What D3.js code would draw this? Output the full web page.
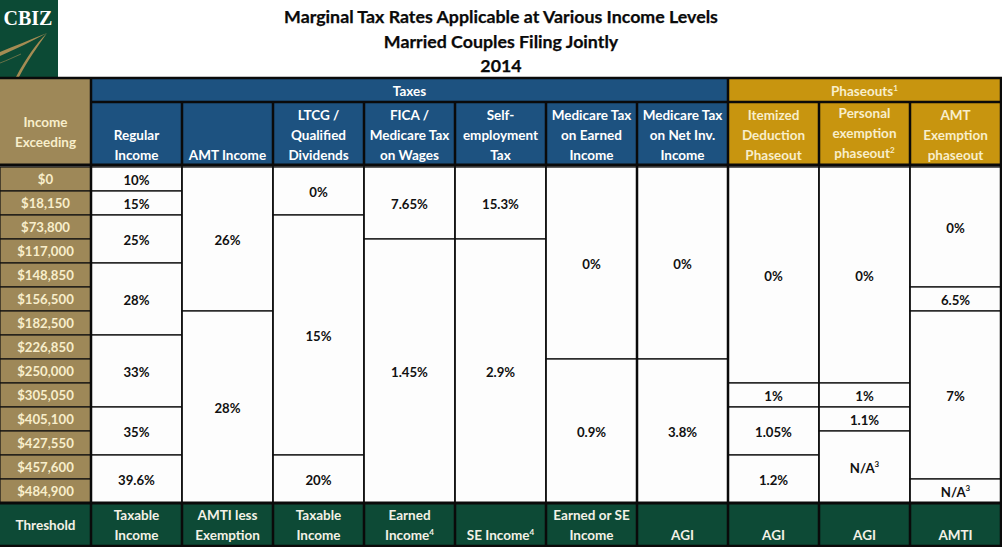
<!DOCTYPE html>
<html>
<head>
<meta charset="utf-8">
<script src="https://cdn.jsdelivr.net/npm/d3@7"></script>
<style>
  html, body { margin: 0; padding: 0; background: #ffffff; }
  svg { display: block; }
  text { font-family: Lato, "Open Sans", sans-serif; font-weight: bold; }
</style>
</head>
<body>
<svg id="chart" width="1002" height="547"></svg>
<script>
// ---------------- DATA ----------------
const titleLines = ["Marginal Tax Rates Applicable at Various Income Levels", "Married Couples Filing Jointly", "2014"];

const incomeLevels = ["$0", "$18,150", "$73,800", "$117,000", "$148,850", "$156,500", "$182,500",
  "$226,850", "$250,000", "$305,050", "$405,100", "$427,550", "$457,600", "$484,900"];

const columnKeys = ["label", "regular", "amt", "ltcg", "fica", "se", "medEarned", "medNII", "itemized", "personal", "amtEx"];

const groupNames = ["Taxes", "Phaseouts"];
const groupSup = ["", "1"];
const groupColumns = [["regular", "amt", "ltcg", "fica", "se", "medEarned", "medNII"], ["itemized", "personal", "amtEx"]];

// header lines per column (bottom aligned, 3 line slots); superscript after "^"
const headerLines = [
  ["Income", "Exceeding"],
  ["Regular", "Income"],
  ["AMT Income"],
  ["LTCG /", "Qualified", "Dividends"],
  ["FICA /", "Medicare Tax", "on Wages"],
  ["Self-", "employment", "Tax"],
  ["Medicare Tax", "on Earned", "Income"],
  ["Medicare Tax", "on Net Inv.", "Income"],
  ["Itemized", "Deduction", "Phaseout"],
  ["Personal", "exemption", "phaseout^2"],
  ["AMT", "Exemption", "phaseout"]
];

const thresholdLines = [
  ["Threshold"],
  ["Taxable", "Income"],
  ["AMTI less", "Exemption"],
  ["Taxable", "Income"],
  ["Earned", "Income^4"],
  ["SE Income^4"],
  ["Earned or SE", "Income"],
  ["AGI"],
  ["AGI"],
  ["AGI"],
  ["AMTI"]
];

// rates per column and the income row index at which each rate band begins (last value = end)
const regularRates = ["10%", "15%", "25%", "28%", "33%", "35%", "39.6%"];
const regularBreaks = [0, 1, 2, 4, 7, 10, 12, 14];
const amtRates = ["26%", "28%"];
const amtBreaks = [0, 6, 14];
const ltcgRates = ["0%", "15%", "20%"];
const ltcgBreaks = [0, 2, 12, 14];
const ficaRates = ["7.65%", "1.45%"];
const ficaBreaks = [0, 3, 14];
const seRates = ["15.3%", "2.9%"];
const seBreaks = [0, 3, 14];
const medEarnedRates = ["0%", "0.9%"];
const medEarnedBreaks = [0, 8, 14];
const medNIIRates = ["0%", "3.8%"];
const medNIIBreaks = [0, 8, 14];
const itemizedRates = ["0%", "1%", "1.05%", "1.2%"];
const itemizedBreaks = [0, 9, 10, 12, 14];
const personalRates = ["0%", "1%", "1.1%", "N/A^3"];
const personalBreaks = [0, 9, 10, 11, 14];
const amtExRates = ["0%", "6.5%", "7%", "N/A^3"];
const amtExBreaks = [0, 5, 6, 13, 14];

// ---------------- LAYOUT ----------------
const svg = d3.select("#chart");
const W = 1002, H = 547;
const colors = {
  tan: "#9e8858", blue: "#1d5280", gold: "#c8950f", green: "#0d4a36",
  cream: "#f8eecb", white: "#ffffff", cell: "#fdfdfd", logo: "#0c4a35", swoosh: "#a58c53"
};
const Y = { headTop: 78, bandBottom: 102, headBottom: 165, dataTop: 167, dataBottom: 503, footBottom: 546 };
const FS = 13.5, NFS = 13.2;

const x = d3.scaleBand().domain(columnKeys).range([0, 1001]).padding(0);
const y = d3.scaleLinear().domain([0, incomeLevels.length]).range([Y.dataTop, Y.dataBottom]);

const colData = {
  regular: [regularRates, regularBreaks], amt: [amtRates, amtBreaks], ltcg: [ltcgRates, ltcgBreaks],
  fica: [ficaRates, ficaBreaks], se: [seRates, seBreaks], medEarned: [medEarnedRates, medEarnedBreaks],
  medNII: [medNIIRates, medNIIBreaks], itemized: [itemizedRates, itemizedBreaks],
  personal: [personalRates, personalBreaks], amtEx: [amtExRates, amtExBreaks]
};

// helper to write text with "^" superscript
function writeText(sel, str, fs) {
  const parts = str.split("^");
  sel.append("tspan").text(parts[0]);
  if (parts.length > 1) {
    sel.append("tspan").attr("font-size", fs * 0.6).attr("dy", -fs * 0.4).text(parts[1]);
  }
}

// ---------------- LOGO ----------------
svg.append("rect").attr("x", 0).attr("y", 0).attr("width", 58).attr("height", 77).attr("fill", colors.logo);
svg.append("text").attr("x", 28).attr("y", 25).attr("text-anchor", "middle")
  .style("font-family", "'Liberation Serif', 'DejaVu Serif', serif").style("font-weight", "bold")
  .attr("font-size", 20).attr("fill", "#ffffff").text("CBIZ");
svg.append("path").attr("fill", colors.swoosh)
  .attr("d", "M0,52 C14,46 30,40 47,33 C32,41 16,49 0,56 Z");
svg.append("path").attr("fill", colors.swoosh)
  .attr("d", "M47,33 C36,44 26,58 16,77 L19,77 C28,60 38,46 47,33 Z");
svg.append("path").attr("fill", "none").attr("stroke", colors.swoosh).attr("stroke-width", 1)
  .attr("opacity", 0.6).attr("d", "M0,63 C8,60 14,57 21,54");

// ---------------- TITLE ----------------
svg.selectAll(".title").data(titleLines).join("text")
  .attr("class", "title")
  .attr("x", 501).attr("y", (d, i) => 23 + i * 24.5)
  .attr("text-anchor", "middle").attr("font-size", 17.8).attr("fill", "#0a0a0a")
  .attr("stroke", "#0a0a0a").attr("stroke-width", 0.25)
  .text(d => d);

// ---------------- HEADER ----------------
svg.append("rect").attr("x", 0).attr("y", Y.headTop).attr("width", x.bandwidth() + x("label"))
  .attr("height", Y.headBottom - Y.headTop).attr("fill", colors.tan);

groupNames.forEach((g, gi) => {
  const cols = groupColumns[gi];
  const x0 = x(cols[0]), x1 = x(cols[cols.length - 1]) + x.bandwidth();
  const fill = gi === 0 ? colors.blue : colors.gold;
  svg.append("rect").attr("x", x0).attr("y", Y.headTop).attr("width", x1 - x0)
    .attr("height", Y.headBottom - Y.headTop).attr("fill", fill);
  const t = svg.append("text").attr("x", (x0 + x1) / 2).attr("y", 96)
    .attr("text-anchor", "middle").attr("font-size", FS)
    .attr("fill", gi === 0 ? colors.white : colors.cream);
  writeText(t, groupSup[gi] ? g + "^" + groupSup[gi] : g, FS);
});

columnKeys.forEach((k, ci) => {
  const lines = headerLines[ci];
  const cx = x(k) + x.bandwidth() / 2;
  const isGold = groupColumns[1].includes(k);
  const fill = ci === 0 ? colors.cream : (isGold ? colors.cream : colors.white);
  lines.forEach((ln, li) => {
    let yy;
    if (ci === 0) yy = 127 + li * 20;
    else yy = 160 - (lines.length - 1 - li) * 20 - (k === "personal" ? 2 : 0);
    const t = svg.append("text").attr("x", cx).attr("y", yy)
      .attr("text-anchor", "middle").attr("font-size", FS).attr("fill", fill);
    writeText(t, ln, FS);
  });
});

// ---------------- DATA AREA ----------------
svg.selectAll(".inc").data(incomeLevels).join("rect")
  .attr("class", "inc")
  .attr("x", x("label")).attr("y", (d, i) => y(i))
  .attr("width", x.bandwidth()).attr("height", (d, i) => y(i + 1) - y(i))
  .attr("fill", colors.tan).attr("stroke", "#111").attr("stroke-width", 1.2);
svg.selectAll(".incT").data(incomeLevels).join("text")
  .attr("class", "incT")
  .attr("x", x("label") + x.bandwidth() / 2).attr("y", (d, i) => (y(i) + y(i + 1)) / 2 + 5)
  .attr("text-anchor", "middle").attr("font-size", NFS).attr("fill", colors.cream)
  .text(d => d);

Object.keys(colData).forEach(k => {
  const [rates, breaks] = colData[k];
  const segs = rates.map((r, i) => ({ r, s: breaks[i], e: breaks[i + 1] }));
  const g = svg.append("g");
  g.selectAll("rect").data(segs).join("rect")
    .attr("x", x(k)).attr("y", d => y(d.s))
    .attr("width", x.bandwidth()).attr("height", d => y(d.e) - y(d.s))
    .attr("fill", colors.cell).attr("stroke", "#111").attr("stroke-width", 1.3);
  g.selectAll("text").data(segs).join("text")
    .attr("x", x(k) + x.bandwidth() / 2).attr("y", d => (y(d.s) + y(d.e)) / 2 + 5.5)
    .attr("text-anchor", "middle").attr("font-size", NFS).attr("fill", "#111")
    .each(function (d) { writeText(d3.select(this), d.r, NFS); });
});

// ---------------- FOOTER ----------------
svg.append("rect").attr("x", 0).attr("y", Y.dataBottom).attr("width", 1001)
  .attr("height", Y.footBottom - Y.dataBottom).attr("fill", colors.green);
columnKeys.forEach((k, ci) => {
  const lines = thresholdLines[ci];
  const cx = x(k) + x.bandwidth() / 2;
  lines.forEach((ln, li) => {
    let yy;
    if (ci === 0) yy = 530;
    else yy = 540 - (lines.length - 1 - li) * 20;
    const t = svg.append("text").attr("x", cx).attr("y", yy)
      .attr("text-anchor", "middle").attr("font-size", FS).attr("fill", "#f3f1e6");
    writeText(t, ln, FS);
  });
});

// ---------------- GRID LINES ----------------
const lines = svg.append("g").attr("stroke", "#0a0a0a");
lines.append("line").attr("x1", 0).attr("x2", W).attr("y1", Y.headTop).attr("y2", Y.headTop).attr("stroke-width", 2.5);
lines.append("line").attr("x1", x("regular")).attr("x2", 1001).attr("y1", Y.bandBottom).attr("y2", Y.bandBottom).attr("stroke-width", 2.5);
lines.append("line").attr("x1", 0).attr("x2", 1001).attr("y1", Y.headBottom).attr("y2", Y.headBottom).attr("stroke-width", 3);
lines.append("line").attr("x1", 0).attr("x2", 1001).attr("y1", Y.dataBottom).attr("y2", Y.dataBottom).attr("stroke-width", 3);
lines.append("line").attr("x1", 0).attr("x2", 1002).attr("y1", Y.footBottom).attr("y2", Y.footBottom).attr("stroke-width", 2.5);
columnKeys.forEach((k, ci) => {
  const xx = x(k) + x.bandwidth();
  const thick = (k === "label" || k === "medEarned" || k === "medNII" || k === "amtEx");
  const top = (k === "label" || k === "medNII" || k === "amtEx") ? Y.headTop : Y.bandBottom;
  lines.append("line").attr("x1", xx).attr("x2", xx).attr("y1", top).attr("y2", Y.headBottom)
    .attr("stroke-width", 2.5);
  lines.append("line").attr("x1", xx).attr("x2", xx).attr("y1", Y.headBottom).attr("y2", Y.dataBottom)
    .attr("stroke-width", thick ? 2.5 : 1.3);
  lines.append("line").attr("x1", xx).attr("x2", xx).attr("y1", Y.dataBottom).attr("y2", Y.footBottom)
    .attr("stroke-width", 2.5);
});
</script>
</body>
</html>
